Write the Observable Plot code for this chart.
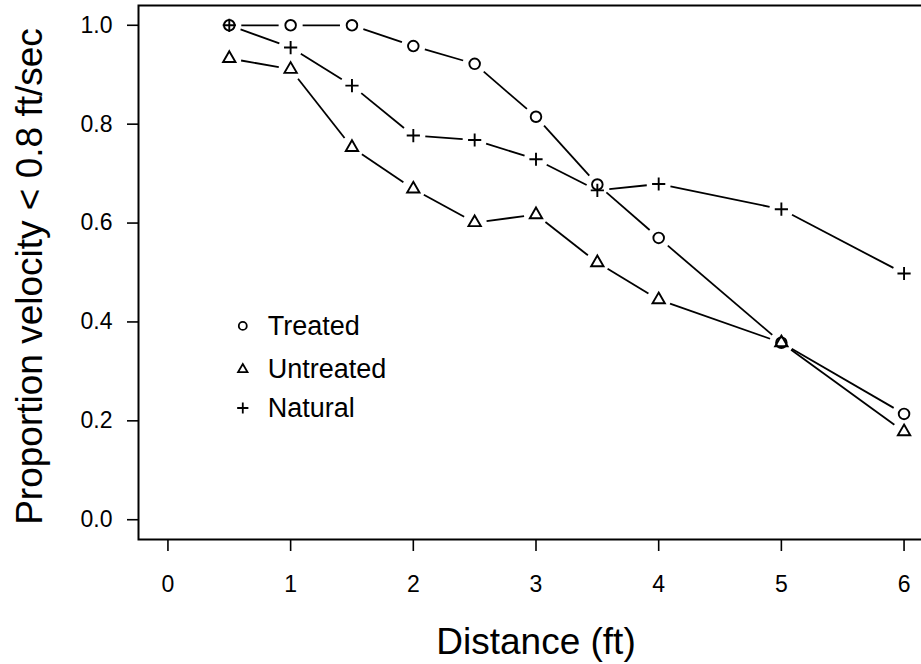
<!DOCTYPE html>
<html><head><meta charset="utf-8">
<script src="https://cdn.jsdelivr.net/npm/d3@7"></script>
<script src="https://cdn.jsdelivr.net/npm/@observablehq/plot@0.6"></script>
<style>html,body{margin:0;padding:0;background:#fff;overflow:hidden}</style>
</head><body><div id="chart"></div>
<script>
const distances = [0.5, 1, 1.5, 2, 2.5, 3, 3.5, 4, 5, 6];
const treated   = [1.0, 1.0, 1.0, 0.958, 0.922, 0.815, 0.678, 0.570, 0.358, 0.214];
const untreated = [0.933, 0.911, 0.753, 0.669, 0.601, 0.617, 0.520, 0.445, 0.358, 0.178];
const natural   = [1.0, 0.955, 0.878, 0.777, 0.768, 0.729, 0.666, 0.679, 0.628, 0.498];
const seriesNames = ["Treated", "Untreated", "Natural"];
const xTicks = [0, 1, 2, 3, 4, 5, 6];
const yTicks = [0, 0.2, 0.4, 0.6, 0.8, 1.0];
const xLabel = "Distance (ft)";
const yLabel = "Proportion velocity < 0.8 ft/sec";

const xDomain = [-0.24, 6.24];
const yDomain = [-0.04, 1.04];
const FONT = "Liberation Sans, Arial, sans-serif";

const plusSymbol = {
  draw(ctx, size) {
    const a = Math.sqrt(size / Math.PI);
    ctx.moveTo(-a, 0); ctx.lineTo(a, 0);
    ctx.moveTo(0, -a); ctx.lineTo(0, a);
  }
};
const seriesValues = {Treated: treated, Untreated: untreated, Natural: natural};
const symbolOf = {Treated: "circle", Untreated: "triangle", Natural: plusSymbol};
const rOf = {Treated: 5.3, Untreated: 4.6, Natural: 6.6};
const legendROf = {Treated: 4, Untreated: 3.5, Natural: 5.6};

const points = seriesNames.flatMap(s => distances.map((d, i) => ({s, x: d, y: seriesValues[s][i]})));
const segments = seriesNames.flatMap(s => distances.slice(1).map((d, i) => ({
  s, x1: distances[i], y1: seriesValues[s][i], x2: d, y2: seriesValues[s][i + 1]
})));

// legend anchor (data coordinates) and row values
const legendX = 0.61;
const legendY = [0.392, 0.304, 0.226];
const legendRows = seriesNames.map((s, i) => ({s, x: legendX, y: legendY[i]}));

const marks = [
  Plot.frame({stroke: "black", strokeWidth: 2}),
  Plot.axisX(xTicks, {tickSize: 12, tickPadding: 24, strokeWidth: 1.6, label: null, fontSize: 23, tickFormat: d3.format("d")}),
  Plot.axisY(yTicks, {tickSize: 11, tickPadding: 15, strokeWidth: 1.6, label: null, fontSize: 23, tickFormat: d3.format(".1f")}),
  Plot.arrow(segments, {x1: "x1", y1: "y1", x2: "x2", y2: "y2", headLength: 0, insetStart: 12, insetEnd: 12,
    stroke: "black", strokeWidth: 1.8, strokeLinecap: "butt"}),
  ...seriesNames.map(s => Plot.dot(points.filter(p => p.s === s), {x: "x", y: "y", symbol: symbolOf[s], r: rOf[s],
    stroke: "black", fill: "none", strokeWidth: 1.9})),
  ...seriesNames.map(s => Plot.dot(legendRows.filter(p => p.s === s), {x: "x", y: "y", symbol: symbolOf[s], r: legendROf[s],
    stroke: "black", fill: "none", strokeWidth: 1.8})),
  Plot.text(legendRows, {x: "x", y: "y", text: "s", dx: 25, textAnchor: "start", lineAnchor: "middle", fontSize: 27, fill: "black"}),
  Plot.text([yLabel], {text: d => d, frameAnchor: "left", rotate: -90, dx: -97, dy: 4, lineAnchor: "bottom", textAnchor: "middle", fontSize: 37, fill: "black"}),
  Plot.text([xLabel], {text: d => d, frameAnchor: "bottom", dy: 114, lineAnchor: "bottom", textAnchor: "middle", fontSize: 37, fill: "black"})
];

const chart = Plot.plot({
  width: 935,
  height: 664,
  marginLeft: 138,
  marginRight: 2,
  marginTop: 5,
  marginBottom: 125,
  x: {domain: xDomain, axis: null},
  y: {domain: yDomain, axis: null},
  style: {fontFamily: FONT, fontSize: "23px", color: "black", background: "white"},
  marks
});
chart.setAttribute("width", 921);
chart.setAttribute("viewBox", "0 0 921 664");
chart.style.maxWidth = "none";
document.getElementById("chart").appendChild(chart);
</script>
</body></html>
